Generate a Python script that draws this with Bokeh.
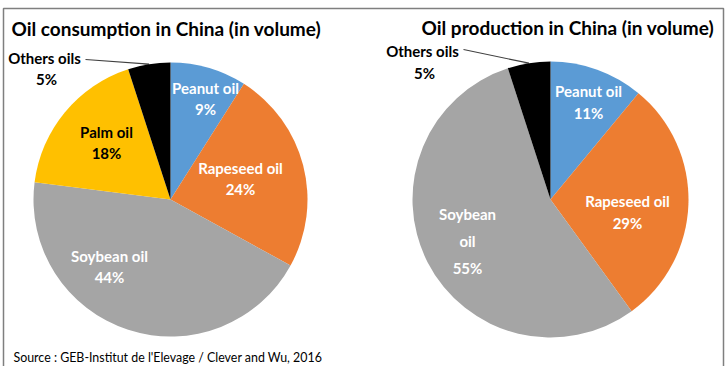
import math
from bokeh.plotting import figure
from bokeh.models import Range1d, ColumnDataSource
from bokeh.core.properties import value
from bokeh.embed import file_html
from bokeh.resources import INLINE

# ---------------- data ----------------
cons_categories = ["Peanut oil", "Rapeseed oil", "Soybean oil", "Palm oil", "Others oils"]
cons_values = [9, 24, 44, 18, 5]
prod_categories = ["Peanut oil", "Rapeseed oil", "Soybean oil", "Others oils"]
prod_values = [11, 29, 55, 5]
cons_title = "Oil consumption in China (in volume)"
prod_title = "Oil production in China (in volume)"
source_text = "Source : GEB-Institut de l'Elevage / Clever and Wu, 2016"

# ---------------- style / layout ----------------
W, H = 727, 366
FONT = "Lato"
colors = {"Peanut oil": "#5B9BD5", "Rapeseed oil": "#ED7D31", "Soybean oil": "#A5A5A5",
          "Palm oil": "#FFC000", "Others oils": "#000000"}
text_colors = {"Peanut oil": "white", "Rapeseed oil": "white", "Soybean oil": "white",
               "Palm oil": "black", "Others oils": "black"}

pies = [
    dict(cats=cons_categories, vals=cons_values, cx=170, cy=199, r=137, title=cons_title, tx=11, ty=28,
         label_off={"Peanut oil": (35, -101), "Rapeseed oil": (70, -21), "Soybean oil": (-61, 67),
                    "Palm oil": (-64, -57), "Others oils": (-126, -131)},
         split={"Soybean oil": ["Soybean oil"]}, spacing=21, soy_spacing=21,
         leader_start=(-85, -140)),
    dict(cats=prod_categories, vals=prod_values, cx=550, cy=199, r=138, title=prod_title, tx=421, ty=27,
         label_off={"Peanut oil": (38, -98), "Rapeseed oil": (77, 12), "Soybean oil": (-83, 41),
                    "Others oils": (-128, -138)},
         split={"Soybean oil": ["Soybean", "oil"]}, spacing=22, soy_spacing=27,
         leader_start=(-87, -150)),
]

p = figure(width=W, height=H, x_range=Range1d(0, W), y_range=Range1d(0, H),
           output_backend="svg", toolbar_location=None, min_border=0)
p.axis.visible = False
p.grid.visible = False
p.outline_line_color = None
p.background_fill_color = "white"
p.border_fill_color = "white"

def Y(ypx):
    return H - ypx

# frame around the picture (top, left, right)
p.line(x=[3, 3, 723, 723], y=[Y(366), Y(8), Y(8), Y(366)], line_color="#7f7f7f", line_width=1.5)

for pie in pies:
    cats, vals = pie["cats"], pie["vals"]
    total = float(sum(vals))
    cum = 0.0
    starts, ends, cols = [], [], []
    lab_x, lab_y, lab_t, lab_c = [], [], [], []
    for c, v in zip(cats, vals):
        a0 = cum / total
        cum += v
        a1 = cum / total
        # clockwise from 12 o'clock
        starts.append(math.pi / 2 - a1 * 2 * math.pi)
        ends.append(math.pi / 2 - a0 * 2 * math.pi)
        cols.append(colors[c])
        lines = pie["split"].get(c, [c]) + ["%d%%" % v]
        sp = pie["soy_spacing"] if c == "Soybean oil" else pie["spacing"]
        dx, dy = pie["label_off"][c]
        n = len(lines)
        for i, t in enumerate(lines):
            lab_x.append(pie["cx"] + dx + (2 if (c == "Others oils" and i == 1) else 0))
            lab_y.append(Y(pie["cy"] + dy + (i - (n - 1) / 2) * sp))
            lab_t.append(t)
            lab_c.append(text_colors[c])
        if c == "Others oils":
            mid = (a0 + a1) / 2 * 2 * math.pi
            ex = pie["cx"] + pie["r"] * math.sin(mid)
            ey = pie["cy"] - pie["r"] * math.cos(mid)
            sx, sy = pie["leader_start"]
            p.line(x=[pie["cx"] + sx, ex], y=[Y(pie["cy"] + sy), Y(ey)], line_color="#404040", line_width=1.2)
    src = ColumnDataSource(dict(start=starts, end=ends, color=cols))
    p.wedge(x=pie["cx"], y=Y(pie["cy"]), radius=pie["r"], start_angle="start", end_angle="end",
            fill_color="color", line_color=None, source=src)
    lsrc = ColumnDataSource(dict(x=lab_x, y=lab_y, t=lab_t, c=lab_c))
    p.text(x="x", y="y", text="t", text_color="c", source=lsrc, text_font=value(FONT),
           text_font_style="bold", text_font_size="15px", text_align="center", text_baseline="middle")
    p.text(x=[pie["tx"]], y=[Y(pie["ty"])], text=[pie["title"]], text_font=value(FONT),
           text_font_style="bold", text_font_size="19px", text_align="left", text_baseline="middle",
           text_color="black")

p.text(x=[13], y=[Y(357)], text=[source_text], text_font=value(FONT), text_font_size="12.4px",
       text_align="left", text_baseline="middle", text_color="black")

open("out.html", "w").write(file_html(p, INLINE))
